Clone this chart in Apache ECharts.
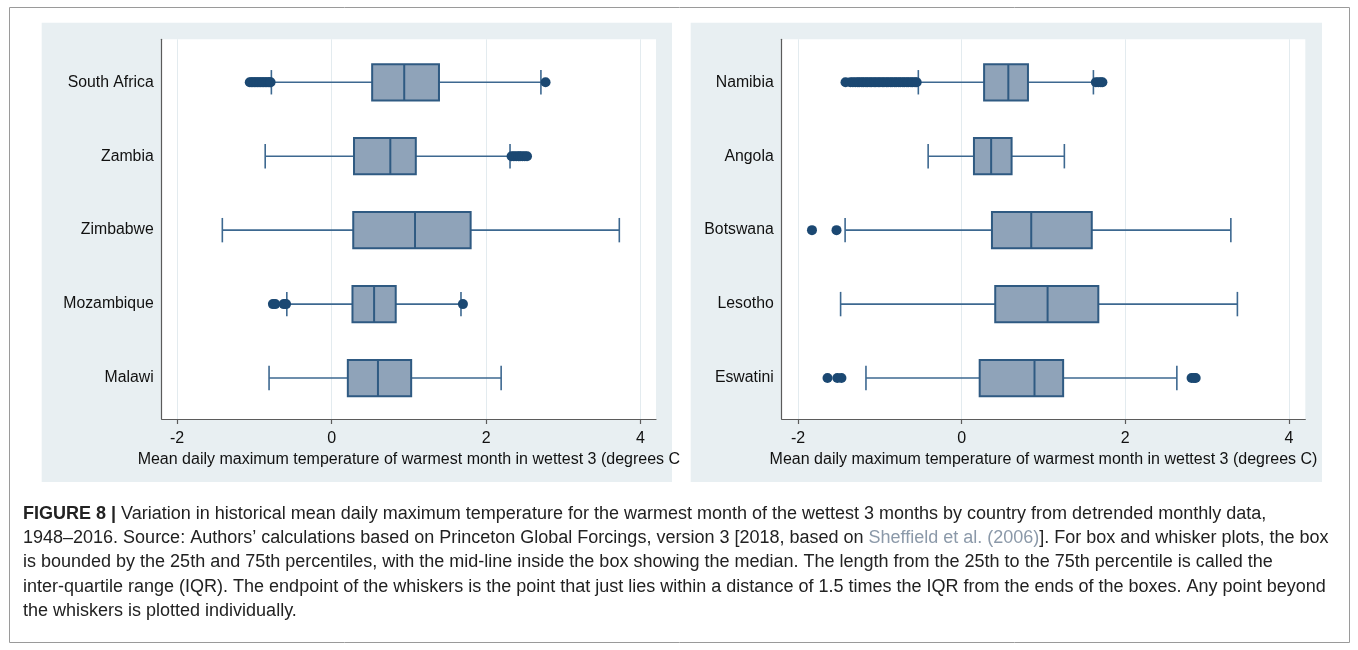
<!DOCTYPE html>
<html><head><meta charset="utf-8">
<script src="https://cdn.jsdelivr.net/npm/echarts@6/dist/echarts.min.js"></script>
<style>html,body{margin:0;padding:0;background:#fff}#c{width:1358px;height:650px}</style>
</head><body><div id="c"></div>
<script>
// ---------- DATA ----------
const xTicks = [-2, 0, 2, 4];
const axisTitle = 'Mean daily maximum temperature of warmest month in wettest 3 (degrees C)';

const leftCountries = ['South Africa', 'Zambia', 'Zimbabwe', 'Mozambique', 'Malawi'];
// [lower whisker, Q1, median, Q3, upper whisker]
const leftBoxes = [
  [-0.78, 0.525, 0.94, 1.39, 2.71],
  [-0.86, 0.29, 0.76, 1.09, 2.31],
  [-1.415, 0.28, 1.08, 1.80, 3.725],
  [-0.58, 0.27, 0.55, 0.83, 1.675],
  [-0.81, 0.21, 0.60, 1.03, 2.195]
];
const leftOutliers = [
  [-1.06, -1.04, -1.02, -1.00, -0.98, -0.96, -0.94, -0.92, -0.90, -0.88, -0.86, -0.84, -0.82, -0.80, -0.79, 2.77],
  [2.33, 2.36, 2.39, 2.42, 2.44, 2.47, 2.50, 2.53],
  [],
  [-0.76, -0.73, -0.62, -0.59, 1.70],
  []
];

const rightCountries = ['Namibia', 'Angola', 'Botswana', 'Lesotho', 'Eswatini'];
const rightBoxes = [
  [-0.53, 0.274, 0.57, 0.81, 1.61],
  [-0.41, 0.15, 0.36, 0.61, 1.255],
  [-1.425, 0.37, 0.85, 1.59, 3.29],
  [-1.48, 0.41, 1.05, 1.67, 3.37],
  [-1.17, 0.22, 0.89, 1.24, 2.63]
];
const rightOutliers = [
  [-1.42, -1.36, -1.33, -1.30, -1.27, -1.25, -1.22, -1.20, -1.17, -1.15, -1.12, -1.10, -1.07, -1.05, -1.02, -1.00,
   -0.97, -0.95, -0.92, -0.90, -0.87, -0.85, -0.82, -0.80, -0.77, -0.75, -0.72, -0.70, -0.67, -0.65, -0.62, -0.60,
   -0.57, -0.55, 1.64, 1.67, 1.70, 1.72],
  [],
  [-1.83, -1.53],
  [],
  [-1.64, -1.52, -1.47, 2.81, 2.84, 2.86]
];

const captionLines = [
  '{b|FIGURE 8 |} Variation in historical mean daily maximum temperature for the warmest month of the wettest 3 months by country from detrended monthly data,',
  '1948–2016. Source: Authors’ calculations based on Princeton Global Forcings, version 3 [2018, based on {l|Sheffield et al. (2006)}]. For box and whisker plots, the box',
  'is bounded by the 25th and 75th percentiles, with the mid-line inside the box showing the median. The length from the 25th to the 75th percentile is called the',
  'inter-quartile range (IQR). The endpoint of the whiskers is the point that just lies within a distance of 1.5 times the IQR from the ends of the boxes. Any point beyond',
  'the whiskers is plotted individually.'
];

// ---------- STYLE ----------
const FONT = '"Liberation Sans", Arial, Helvetica, sans-serif';
const CAP_SIZE = 18;
const BOX_FILL = '#8fa3b9';
const BOX_LINE = '#2f5a82';
const WHISKER = '#3d6890';
const DOT = '#1b4872';
const AXIS = '#5b5b5b';
const PANEL_BG = '#e8eff2';

const chart = echarts.init(document.getElementById('c'), null, {renderer: 'canvas'});

function boxRender(params, api) {
  const idx = api.value(0);
  const pLo = api.coord([api.value(1), idx]);
  const pQ1 = api.coord([api.value(2), idx]);
  const pMed = api.coord([api.value(3), idx]);
  const pQ3 = api.coord([api.value(4), idx]);
  const pHi = api.coord([api.value(5), idx]);
  const band = api.size([0, 1])[1];
  const bh = band * 0.49, cap = band * 0.33;
  const y = pLo[1];
  const lw = {stroke: WHISKER, lineWidth: 1.6};
  return {
    type: 'group',
    children: [
      {type: 'line', shape: {x1: pLo[0], y1: y, x2: pQ1[0], y2: y}, style: lw},
      {type: 'line', shape: {x1: pQ3[0], y1: y, x2: pHi[0], y2: y}, style: lw},
      {type: 'line', shape: {x1: pLo[0], y1: y - cap / 2, x2: pLo[0], y2: y + cap / 2}, style: lw},
      {type: 'line', shape: {x1: pHi[0], y1: y - cap / 2, x2: pHi[0], y2: y + cap / 2}, style: lw},
      {type: 'rect', shape: {x: pQ1[0], y: y - bh / 2, width: pQ3[0] - pQ1[0], height: bh},
        style: {fill: BOX_FILL, stroke: BOX_LINE, lineWidth: 2}},
      {type: 'line', shape: {x1: pMed[0], y1: y - bh / 2, x2: pMed[0], y2: y + bh / 2},
        style: {stroke: BOX_LINE, lineWidth: 2}}
    ]
  };
}

function makeAxes(gridIndex, countries, truncate) {
  const xa = {
    type: 'value', gridIndex, min: -2.2, max: 4.2,
    axisLine: {show: true, onZero: false, lineStyle: {color: AXIS, width: 1.2}},
    axisTick: {show: true, customValues: xTicks, length: 5, lineStyle: {color: AXIS, width: 1.2}},
    axisLabel: {customValues: xTicks, fontSize: 16, color: '#111', margin: 12, fontFamily: FONT,
      formatter: v => String(v)},
    splitLine: {show: true, lineStyle: {color: '#e3ebef', width: 1}},
    name: axisTitle, nameLocation: 'middle', nameGap: 26,
    nameTextStyle: {fontSize: 16, color: '#111', fontFamily: FONT}
  };
  if (truncate) xa.nameTruncate = {maxWidth: truncate, ellipsis: ''};
  const ya = {
    type: 'value', gridIndex, inverse: true, min: -0.581, max: 4.554,
    axisLine: {show: true, onZero: false, lineStyle: {color: AXIS, width: 1.2}},
    axisTick: {show: false},
    splitLine: {show: false},
    axisLabel: {customValues: [0, 1, 2, 3, 4], formatter: v => countries[v] || '',
      fontSize: 15.8, color: '#111', margin: 8, fontFamily: FONT}
  };
  return [xa, ya];
}

const [lx, ly] = makeAxes(0, leftCountries, 544);
const [rx, ry] = makeAxes(1, rightCountries, null);

function outlierData(list) {
  const out = [];
  list.forEach((vals, i) => vals.forEach(v => out.push([v, i])));
  return out;
}

const captionText = captionLines.map((t, i) => ({
  type: 'text', left: 23, top: 505 + i * 24.25,
  style: {
    text: t, fill: '#222', font: CAP_SIZE + 'px ' + FONT,
    rich: {
      b: {fontWeight: 'bold', fill: '#222', fontSize: CAP_SIZE, fontFamily: FONT},
      l: {fill: '#8b99a9', fontSize: CAP_SIZE, fontFamily: FONT}
    }
  }
}));

chart.setOption({
  animation: false,
  backgroundColor: '#fff',
  graphic: [
    {type: 'rect', z: -10, shape: {x: 9.5, y: 7.5, width: 1340, height: 635}, style: {fill: '#fff', stroke: '#9a9a9a', lineWidth: 1}},
    {type: 'rect', z: -9, shape: {x: 41.7, y: 22.7, width: 630.3, height: 459.3}, style: {fill: PANEL_BG}},
    {type: 'rect', z: -9, shape: {x: 690.7, y: 22.7, width: 631.3, height: 459.3}, style: {fill: PANEL_BG}},
    ...captionText
  ],
  grid: [
    {left: 161.7, top: 39.3, width: 494.3, height: 379.7, show: true, backgroundColor: '#fff', borderWidth: 0, containLabel: false},
    {left: 781.7, top: 39.3, width: 523.6, height: 379.7, show: true, backgroundColor: '#fff', borderWidth: 0, containLabel: false}
  ],
  xAxis: [lx, rx],
  yAxis: [ly, ry],
  series: [
    {type: 'custom', xAxisIndex: 0, yAxisIndex: 0, renderItem: boxRender,
      encode: {x: [1, 2, 3, 4, 5], y: 0}, data: leftBoxes.map((b, i) => [i].concat(b)), z: 2},
    {type: 'scatter', xAxisIndex: 0, yAxisIndex: 0, symbolSize: 10, itemStyle: {color: DOT, opacity: 1},
      data: outlierData(leftOutliers), z: 3},
    {type: 'custom', xAxisIndex: 1, yAxisIndex: 1, renderItem: boxRender,
      encode: {x: [1, 2, 3, 4, 5], y: 0}, data: rightBoxes.map((b, i) => [i].concat(b)), z: 2},
    {type: 'scatter', xAxisIndex: 1, yAxisIndex: 1, symbolSize: 10, itemStyle: {color: DOT, opacity: 1},
      data: outlierData(rightOutliers), z: 3}
  ]
});
</script></body></html>
